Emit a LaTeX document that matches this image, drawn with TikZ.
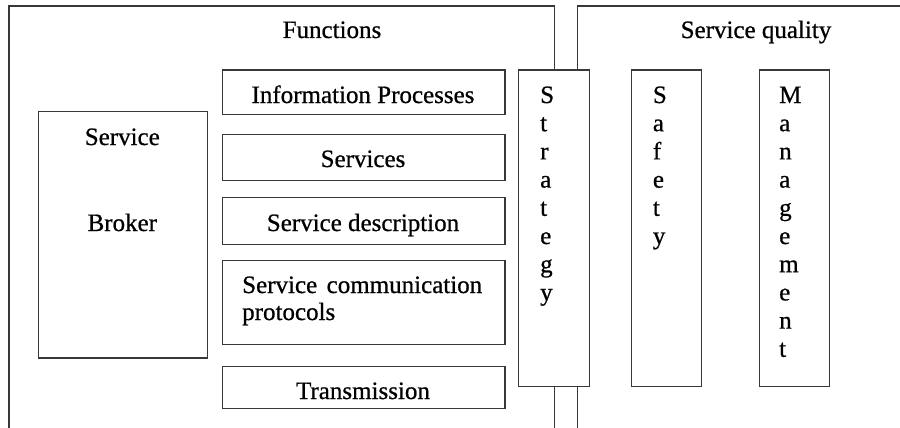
\documentclass[tikz,border=0pt]{standalone}
\usepackage{fontspec}
\setmainfont{Liberation Serif}[FakeBold=0.7]
\begin{document}
\begin{tikzpicture}[x=1pt,y=-1pt,
  frame/.style={draw=black!78,line width=1.4pt},
  box/.style={draw=black!78,line width=1.4pt,fill=white,anchor=north west,inner sep=0pt},
  txt/.style={inner sep=0pt,anchor=base,font=\fontsize{25}{30}\selectfont},
  letter/.style={inner sep=0pt,anchor=base west,font=\fontsize{25}{30}\selectfont}]
\clip (0,0) rectangle (900,428);
\fill[white] (0,0) rectangle (900,428);

% the two open frames, running off the bottom edge
\draw[frame] (9,440) -- (9,6) -- (554.7,6) -- (554.7,440);
\draw[frame] (577.7,440) -- (577.7,6) -- (910,6);
\node[txt] (functions) at (332,38) {Functions};
\node[txt] (quality) at (756,38) {Service quality};

% service broker
\node[box,minimum width=168.7pt,minimum height=246.3pt] (broker) at (38,111) {};
\node[txt] (brokerA) at (122.3,145) {Service};
\node[txt] (brokerB) at (122.3,231) {Broker};

% function layers
\node[box,minimum width=282.6pt,minimum height=44.4pt] (info) at (221.7,69.3) {};
\node[box,minimum width=282.6pt,minimum height=46pt] (services) at (221.7,134) {};
\node[box,minimum width=282.6pt,minimum height=47pt] (desc) at (221.7,197) {};
\node[box,minimum width=282.6pt,minimum height=84pt] (comm) at (221.7,260) {};
\node[box,minimum width=282.6pt,minimum height=42pt] (trans) at (221.7,366) {};
\node[txt] (infoT) at (363,103) {Information Processes};
\node[txt] (servicesT) at (363,167) {Services};
\node[txt] (descT) at (363,231) {Service description};
\node[txt,anchor=base west] (commA) at (242,293) {\makebox[240pt][l]{Service\hfill communication}};
\node[txt,anchor=base west] (commB) at (242,320) {protocols};
\node[txt] (transT) at (363,399) {Transmission};

% vertical columns
\node[box,minimum width=71pt,minimum height=316.7pt] (strategy) at (517.7,69.3) {};
\node[box,minimum width=70.3pt,minimum height=316.7pt] (safety) at (630.7,69.3) {};
\node[box,minimum width=70.3pt,minimum height=316.7pt] (mgmt) at (758.7,69.3) {};

\foreach \c [count=\i from 0] in {S,t,r,a,t,e,g,y}
  \node[letter] (strat-\i) at (540,103+28.2*\i) {\c};
\foreach \c [count=\i from 0] in {S,a,f,e,t,y}
  \node[letter] (safe-\i) at (652.7,103+28.2*\i) {\c};
\foreach \c [count=\i from 0] in {M,a,n,a,g,e,m,e,n,t}
  \node[letter] (mgmt-\i) at (779,103+28.2*\i) {\c};
\end{tikzpicture}
\end{document}
